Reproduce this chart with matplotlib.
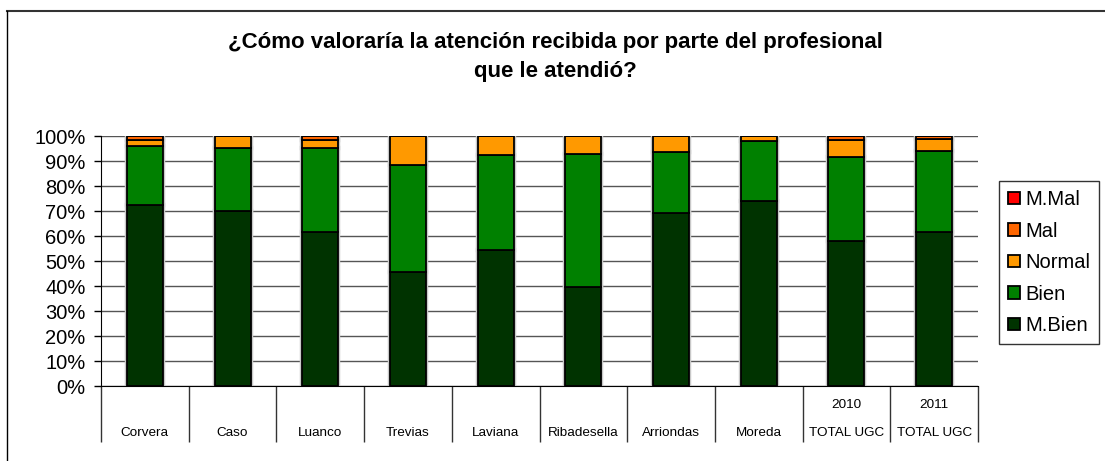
import matplotlib
matplotlib.use("Agg")
import matplotlib.pyplot as plt
from matplotlib.patches import Patch
from matplotlib.lines import Line2D
import numpy as np

plt.rcParams['font.family'] = ['Liberation Sans', 'DejaVu Sans']

# Porcentajes por centro (cada columna suma 100)
centros = ["Corvera", "Caso", "Luanco", "Trevias", "Laviana", "Ribadesella",
           "Arriondas", "Moreda", "TOTAL UGC", "TOTAL UGC"]
anios = ["", "", "", "", "", "", "", "", "2010", "2011"]
m_bien = [72.5, 70.1, 61.6, 45.7, 54.4, 39.8, 69.2, 74.1, 58.1, 61.7]
bien = [23.8, 25.1, 33.9, 42.8, 38.1, 53.0, 24.6, 24.0, 33.5, 32.5]
normal = [2.1, 4.8, 3.0, 11.5, 7.5, 7.2, 6.2, 1.9, 7.0, 4.8]
mal = [1.6, 0.0, 1.5, 0.0, 0.0, 0.0, 0.0, 0.0, 1.4, 1.0]
m_mal = [0.0, 0.0, 0.0, 0.0, 0.0, 0.0, 0.0, 0.0, 0.0, 0.0]

series = [("M.Bien", m_bien, "#003300"),
          ("Bien", bien, "#008000"),
          ("Normal", normal, "#FF9900"),
          ("Mal", mal, "#FF6600"),
          ("M.Mal", m_mal, "#FF0000")]

W, H = 1105, 461
fig = plt.figure(figsize=(W / 100, H / 100), dpi=100)

# marco exterior del gráfico
fig.add_artist(Line2D([7 / W, 1], [1 - 11 / H, 1 - 11 / H], transform=fig.transFigure,
                      color="#333333", lw=1.5))
fig.add_artist(Line2D([7 / W, 7 / W], [0, 1 - 11 / H], transform=fig.transFigure,
                      color="black", lw=1.0))

x0, x1, ytop, ybot = 101, 978, 136.3, 386.3
ax = fig.add_axes([x0 / W, 1 - ybot / H, (x1 - x0) / W, (ybot - ytop) / H])

n = len(centros)
x = np.arange(n)
bw = 0.41
base = np.zeros(n)
for nombre, vals, col in series:
    vals = np.array(vals)
    # sombra gris alrededor de cada segmento
    ax.bar(x, vals, bw, bottom=base, color="none", edgecolor="#c8c8c8",
           linewidth=3.2, zorder=2)
    ax.bar(x, vals, bw, bottom=base, color=col, edgecolor="black",
           linewidth=1.3, zorder=3)
    base += vals

ax.set_xlim(-0.5, n - 0.5)
ax.set_ylim(0, 100)
ax.set_yticks(np.arange(0, 101, 10))
ax.set_yticklabels([f"{v}%" for v in range(0, 101, 10)], fontsize=14.5)
ax.yaxis.grid(True, color="#555555", lw=1.0)
ax.set_axisbelow(True)
ax.tick_params(axis="y", direction="out", length=5, width=1, pad=6)

# separadores de categorías bajo el eje
ax.set_xticks(np.arange(-0.5, n, 1.0))
ax.set_xticklabels([])
ax.tick_params(axis="x", direction="out", length=40, width=1, color="#333333")

for s in ["top", "right"]:
    ax.spines[s].set_visible(False)
ax.spines["bottom"].set_color("black")
ax.spines["left"].set_color("black")

for i in range(n):
    ax.text(x[i], -18.7, centros[i], ha="center", va="center", fontsize=9.7)
    if anios[i]:
        ax.text(x[i], -7.5, anios[i], ha="center", va="center", fontsize=9.7)

fig.text(555 / W, 1 - 57 / H, "¿Cómo valoraría la atención recibida por parte del profesional\nque le atendió?",
         ha="center", va="center", fontsize=16, fontweight="bold", linespacing=1.5)

handles = [Patch(facecolor=c, edgecolor="black", linewidth=1.3, label=nm)
           for nm, _, c in series[::-1]]
leg = fig.legend(handles=handles, loc="upper left",
                 bbox_to_anchor=(999 / W, 1 - 181 / H), fontsize=14.5,
                 frameon=True, fancybox=False, edgecolor="black",
                 handlelength=0.6, handleheight=0.6, handletextpad=0.25,
                 labelspacing=0.62, borderpad=0.45, borderaxespad=0)
leg.get_frame().set_linewidth(1.0)

fig.savefig("out.png", dpi=100)
